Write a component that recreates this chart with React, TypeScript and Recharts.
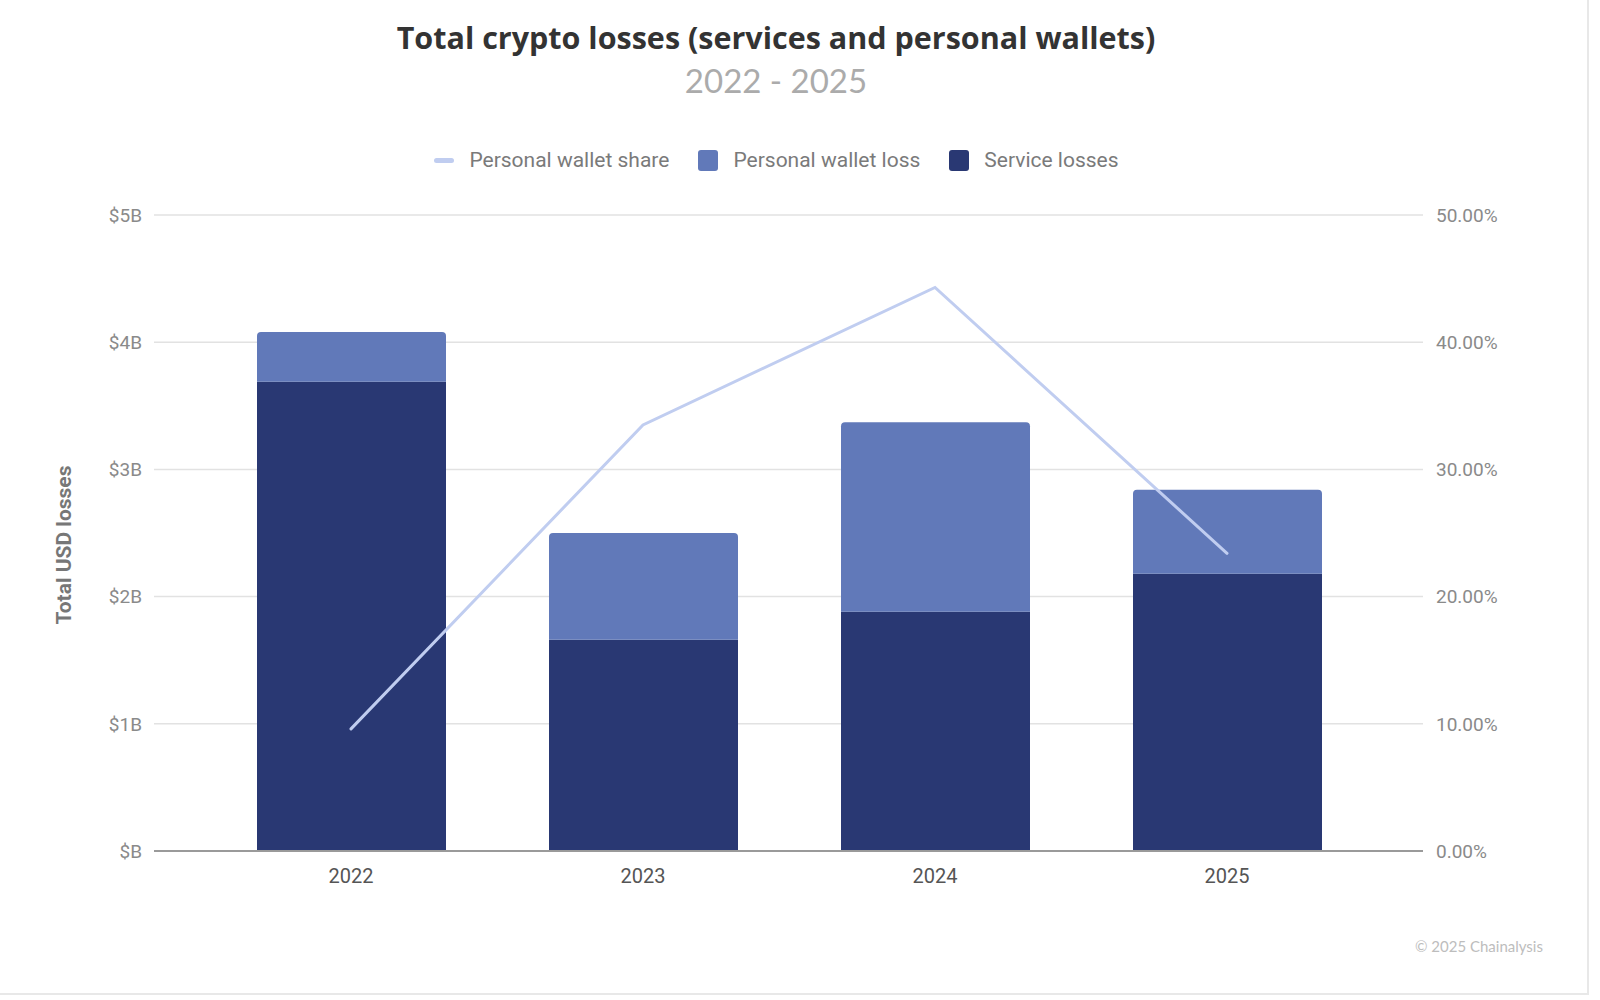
import React from 'react';
import {
  ComposedChart,
  Bar,
  Line,
  XAxis,
  YAxis,
  CartesianGrid,
} from 'recharts';

// Yearly totals in billions of USD
const years = ['2022', '2023', '2024', '2025'];
const serviceLosses = [3.69, 1.66, 1.88, 2.18];
const personalWalletLoss = [0.39, 0.84, 1.49, 0.66];
// Share of total losses coming from personal wallets
const personalWalletShare = [0.096, 0.335, 0.443, 0.234];

const usdTicks = [0, 1, 2, 3, 4, 5];
const shareTicks = [0, 0.1, 0.2, 0.3, 0.4, 0.5];

const SERVICE_COLOR = '#293873';
const PERSONAL_COLOR = '#6179b9';
const SHARE_COLOR = '#c0cdf0';

const data = years.map((year, i) => ({
  year,
  service: serviceLosses[i],
  personal: personalWalletLoss[i],
  share: personalWalletShare[i],
}));

const formatUsd = (v: number) => `$${v === 0 ? '' : v}B`;
const formatShare = (v: number) => `${(v * 100).toFixed(2)}%`;

const legendItems = [
  { label: 'Personal wallet share', color: SHARE_COLOR, kind: 'line' },
  { label: 'Personal wallet loss', color: PERSONAL_COLOR, kind: 'box' },
  { label: 'Service losses', color: SERVICE_COLOR, kind: 'box' },
];

const tickFont = { fontSize: 19, fontFamily: 'Roboto, sans-serif' };

export default function App() {
  return (
    <div
      style={{
        position: 'absolute',
        left: 0,
        top: 0,
        width: 1600,
        height: 1000,
        background: '#ffffff',
        fontFamily: 'Lato, "Noto Sans", sans-serif',
        overflow: 'hidden',
      }}
    >
      {/* card edge */}
      <div
        style={{
          position: 'absolute',
          left: 0,
          top: 0,
          width: 1589,
          height: 995,
          borderRight: '2px solid #e8e8e8',
          borderBottom: '2px solid #e8e8e8',
          boxSizing: 'border-box',
        }}
      />
      <div
        style={{
          position: 'absolute',
          left: 0,
          width: 1552,
          top: 16,
          textAlign: 'center',
          fontFamily: '"Open Sans", sans-serif',
          fontSize: 30.5,
          fontWeight: 700,
          color: '#333333',
          whiteSpace: 'nowrap',
        }}
      >
        Total crypto losses (services and personal wallets)
      </div>
      <div
        style={{
          position: 'absolute',
          left: 0,
          width: 1552,
          top: 60,
          textAlign: 'center',
          fontSize: 33,
          color: '#ababab',
        }}
      >
        2022 - 2025
      </div>
      <div
        style={{
          position: 'absolute',
          left: 0,
          width: 1553,
          top: 148,
          display: 'flex',
          justifyContent: 'center',
          alignItems: 'center',
          fontFamily: 'Roboto, sans-serif',
          fontSize: 21,
          color: '#7a7a7a',
        }}
      >
        {legendItems.map((item, i) => (
          <div
            key={item.label}
            style={{ display: 'flex', alignItems: 'center', marginLeft: i === 0 ? 0 : 29 }}
          >
            {item.kind === 'line' ? (
              <div
                style={{ width: 20, height: 5, borderRadius: 3, background: item.color }}
              />
            ) : (
              <div
                style={{ width: 20, height: 21, borderRadius: 3, background: item.color }}
              />
            )}
            <span style={{ marginLeft: 15 }}>{item.label}</span>
          </div>
        ))}
      </div>
      <div
        style={{
          position: 'absolute',
          left: 64,
          top: 545,
          transform: 'translate(-50%, -50%) rotate(-90deg)',
          whiteSpace: 'nowrap',
          fontFamily: 'Roboto, sans-serif',
          fontWeight: 700,
          fontSize: 21,
          color: '#777777',
        }}
      >
        Total USD losses
      </div>
      <div
        style={{
          position: 'absolute',
          left: 1415,
          top: 937,
          fontSize: 15,
          color: '#bdbdbd',
          whiteSpace: 'nowrap',
        }}
      >
        © 2025 Chainalysis
      </div>
      <div style={{ position: 'absolute', left: 0, top: 0 }}>
        <ComposedChart
          width={1600}
          height={1000}
          data={data}
          margin={{ top: 215, right: 0, bottom: 119, left: 0 }}
        >
          <CartesianGrid
            yAxisId="left"
            vertical={false}
            stroke="#e2e2e2"
            strokeWidth={1.5}
          />
          <XAxis
            dataKey="year"
            height={30}
            padding={{ left: 51, right: 50 }}
            axisLine={{ stroke: '#9a9a9a', strokeWidth: 2 }}
            tickLine={false}
            tickMargin={12}
            tick={{ fill: '#555555', fontSize: 20, fontFamily: 'Roboto, sans-serif' }}
          />
          <YAxis
            yAxisId="left"
            orientation="left"
            width={154}
            domain={[0, 5]}
            ticks={usdTicks}
            tickFormatter={formatUsd}
            axisLine={false}
            tickLine={false}
            tickMargin={6}
            tick={{ fill: '#8a8a8a', ...tickFont }}
          />
          <YAxis
            yAxisId="right"
            orientation="right"
            width={177}
            domain={[0, 0.5]}
            ticks={shareTicks}
            tickFormatter={formatShare}
            axisLine={false}
            tickLine={false}
            tickMargin={7}
            tick={{ fill: '#8a8a8a', ...tickFont }}
          />
          <Bar
            yAxisId="left"
            dataKey="service"
            stackId="losses"
            fill={SERVICE_COLOR}
            barSize={189}
            isAnimationActive={false}
          />
          <Bar
            yAxisId="left"
            dataKey="personal"
            stackId="losses"
            fill={PERSONAL_COLOR}
            barSize={189}
            radius={[4, 4, 0, 0]}
            isAnimationActive={false}
          />
          <Line
            yAxisId="right"
            type="linear"
            dataKey="share"
            stroke={SHARE_COLOR}
            strokeWidth={3}
            strokeLinecap="round"
            dot={false}
            activeDot={false}
            isAnimationActive={false}
          />
        </ComposedChart>
      </div>
    </div>
  );
}
